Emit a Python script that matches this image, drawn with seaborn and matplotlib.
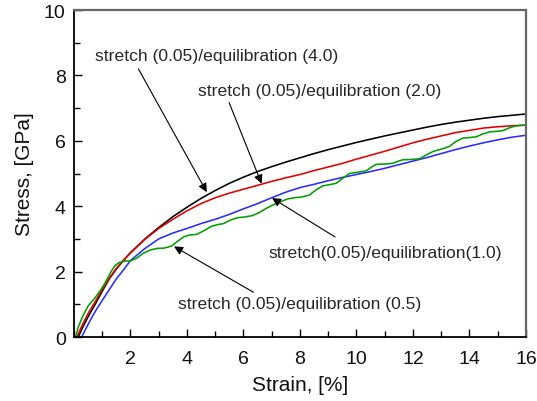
import matplotlib
matplotlib.use("Agg")
import matplotlib.pyplot as plt
from matplotlib.ticker import MultipleLocator, FixedLocator
import pandas as pd
import seaborn as sns

# Stress-strain curves for different equilibration times (stretch rate 0.05)
strain_40 = [0.15, 0.3, 0.5, 0.75, 1.0, 1.25, 1.5, 1.75, 2.0, 2.5, 3.0, 3.5, 4.0, 4.5,
             5.0, 5.5, 6.0, 6.5, 7.0, 7.5, 8.0, 8.5, 9.0, 9.5, 10.0, 10.5, 11.0, 11.5,
             12.0, 12.5, 13.0, 13.5, 14.0, 14.5, 15.0, 15.5, 16.0]
stress_40 = [0.0, 0.28, 0.62, 1.0, 1.40, 1.78, 2.08, 2.34, 2.58, 2.99, 3.35, 3.68, 3.97, 4.24,
             4.48, 4.70, 4.89, 5.06, 5.21, 5.35, 5.48, 5.61, 5.73, 5.84, 5.95, 6.05, 6.15, 6.24,
             6.33, 6.42, 6.50, 6.57, 6.63, 6.69, 6.74, 6.78, 6.82]

strain_20 = [0.1, 0.3, 0.5, 0.75, 1.0, 1.25, 1.5, 1.75, 2.0, 2.5, 3.0, 3.5, 4.0, 4.5,
             5.0, 5.5, 6.0, 6.5, 7.0, 7.5, 8.0, 8.5, 9.0, 9.5, 10.0, 10.5, 11.0, 11.5,
             12.0, 12.5, 13.0, 13.5, 14.0, 14.5, 15.0, 15.5, 16.0]
stress_20 = [0.0, 0.38, 0.72, 1.08, 1.45, 1.80, 2.10, 2.35, 2.57, 2.98, 3.32, 3.60, 3.86, 4.08,
             4.26, 4.40, 4.52, 4.64, 4.76, 4.87, 4.97, 5.09, 5.20, 5.31, 5.44, 5.56, 5.68, 5.81,
             5.94, 6.05, 6.15, 6.25, 6.32, 6.39, 6.43, 6.46, 6.48]

strain_10 = [0.27, 0.4, 0.6, 0.8, 1.0, 1.25, 1.5, 1.75, 2.0, 2.5, 3.0, 3.5, 4.0, 4.5,
             5.0, 5.5, 6.0, 6.5, 7.0, 7.5, 8.0, 8.5, 9.0, 9.5, 10.0, 10.5, 11.0, 11.5,
             12.0, 12.5, 13.0, 13.5, 14.0, 14.5, 15.0, 15.5, 16.0]
stress_10 = [0.0, 0.22, 0.55, 0.85, 1.12, 1.45, 1.78, 2.05, 2.34, 2.70, 3.00, 3.18, 3.32, 3.47,
             3.60, 3.75, 3.92, 4.08, 4.26, 4.43, 4.57, 4.67, 4.78, 4.88, 4.97, 5.06, 5.16, 5.27,
             5.38, 5.49, 5.61, 5.73, 5.84, 5.94, 6.03, 6.11, 6.17]

strain_05 = [0.05, 0.15, 0.3, 0.5, 0.7, 0.9, 1.1, 1.3, 1.45, 1.6, 1.8, 2.0, 2.2, 2.45,
             2.7, 2.95, 3.2, 3.45, 3.7, 3.9, 4.1, 4.35, 4.6, 4.85, 5.05, 5.3, 5.55, 5.8,
             6.05, 6.3, 6.55, 6.8, 7.05, 7.3, 7.55, 7.8, 8.05, 8.33, 8.57, 8.8, 9.05, 9.28,
             9.52, 9.75, 10.05, 10.34, 10.52, 10.69, 11.0, 11.28, 11.46, 11.64, 11.95, 12.23,
             12.47, 12.7, 12.93, 13.1, 13.29, 13.52, 13.76, 14.0, 14.23, 14.47, 14.7, 14.95,
             15.18, 15.42, 15.65, 15.82, 15.98]
stress_05 = [0.0, 0.30, 0.62, 0.95, 1.15, 1.38, 1.65, 1.98, 2.18, 2.28, 2.32, 2.33, 2.40, 2.56,
             2.66, 2.71, 2.72, 2.78, 2.95, 3.07, 3.12, 3.14, 3.25, 3.38, 3.43, 3.47, 3.58, 3.65,
             3.67, 3.71, 3.80, 3.93, 4.04, 4.13, 4.22, 4.26, 4.28, 4.34, 4.50, 4.62, 4.66, 4.70,
             4.86, 5.00, 5.04, 5.08, 5.19, 5.28, 5.29, 5.31, 5.37, 5.42, 5.43, 5.45,
             5.57, 5.67, 5.73, 5.77, 5.83, 5.98, 6.08, 6.10, 6.12, 6.21, 6.27, 6.29,
             6.31, 6.40, 6.46, 6.47, 6.48]

series_names = ["4.0", "2.0", "1.0", "0.5"]
series_colors = ["#000000", "#e00000", "#2b2bff", "#00a000"]

x_ticks = [2, 4, 6, 8, 10, 12, 14, 16]
y_ticks = [0, 2, 4, 6, 8, 10]

frames = []
for name, xs, ys in zip(series_names,
                        [strain_40, strain_20, strain_10, strain_05],
                        [stress_40, stress_20, stress_10, stress_05]):
    frames.append(pd.DataFrame({"strain": xs, "stress": ys, "eq": name}))
df = pd.concat(frames, ignore_index=True)

sns.set_style("ticks")
plt.rcParams["font.family"] = ["Liberation Sans", "DejaVu Sans"]

fig = plt.figure(figsize=(5.37, 4.02), dpi=100)
ax = fig.add_axes([0.1378, 0.1592, 0.8417, 0.8134])

for name, color in zip(series_names, series_colors):
    sns.lineplot(data=df[df["eq"] == name], x="strain", y="stress", color=color,
                 estimator=None, sort=False, linewidth=1.15, ax=ax, legend=False)

ax.set_xlim(0, 16)
ax.set_ylim(0, 10)
ax.xaxis.set_major_locator(FixedLocator(x_ticks))
ax.xaxis.set_minor_locator(MultipleLocator(1))
ax.yaxis.set_major_locator(FixedLocator(y_ticks))
ax.yaxis.set_minor_locator(MultipleLocator(1))
ax.set_xticklabels([str(t) for t in x_ticks])
ax.set_yticklabels([str(t) for t in y_ticks])
ax.tick_params(which="major", direction="in", length=6, width=1.0, labelsize=14,
               top=False, right=False, color="black", labelcolor="#111111")
ax.tick_params(axis="x", which="major", pad=9)
ax.tick_params(axis="y", which="major", pad=6)
ax.tick_params(which="minor", direction="in", length=4, width=1.0, top=False, right=False,
               color="black")

for side in ["left", "bottom"]:
    ax.spines[side].set_color("black")
    ax.spines[side].set_linewidth(1.3)
for side in ["top", "right"]:
    ax.spines[side].set_visible(True)
    ax.spines[side].set_color("#666666")
    ax.spines[side].set_linewidth(1.6)

ax.set_xlabel("Strain, [%]", fontsize=15, labelpad=6, color="#111111")
ax.set_ylabel("Stress, [GPa]", fontsize=15, labelpad=7, color="#111111")

arrow = dict(arrowstyle="-|>", color="black", lw=0.8, mutation_scale=13,
             shrinkA=0, shrinkB=0)
note_fs = 12.6
ax.annotate("", xy=(4.70, 4.43), xytext=(2.28, 8.20), arrowprops=arrow)
ax.text(0.74, 8.62, "stretch (0.05)/equilibration (4.0)", fontsize=note_fs, va="center")

ax.annotate("", xy=(6.64, 4.69), xytext=(5.49, 7.17), arrowprops=arrow)
ax.text(4.39, 7.55, "stretch (0.05)/equilibration (2.0)", fontsize=note_fs, va="center")

ax.annotate("", xy=(7.01, 4.25), xytext=(9.24, 3.06), arrowprops=arrow)
ax.text(6.87, 2.57, "stretch(0.05)/equilibration(1.0)", fontsize=note_fs, va="center")

ax.annotate("", xy=(3.54, 2.77), xytext=(6.35, 1.37), arrowprops=arrow)
ax.text(3.68, 1.01, "stretch (0.05)/equilibration (0.5)", fontsize=note_fs, va="center")

fig.savefig("out.png", dpi=100)
